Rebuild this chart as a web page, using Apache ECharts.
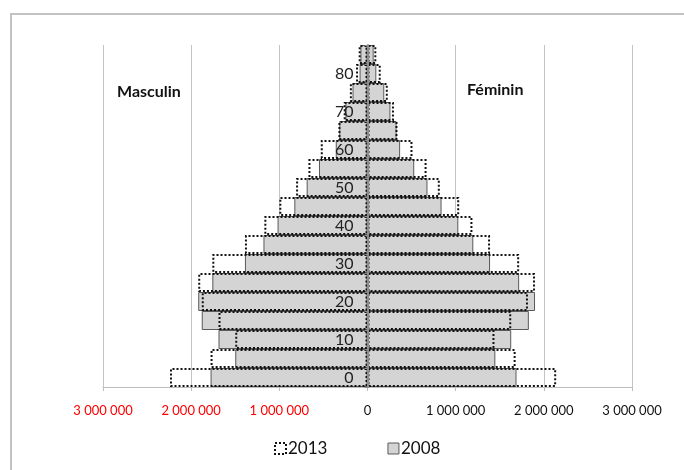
<!DOCTYPE html>
<html>
<head>
<meta charset="utf-8">
<script src="https://cdn.jsdelivr.net/npm/echarts@6/dist/echarts.min.js"></script>
<style>
  html, body { margin: 0; padding: 0; background: #fff; }
  #chart { width: 684px; height: 470px; }
</style>
</head>
<body>
<div id="chart"></div>
<script>
  // tranches d'âge (5 ans)
  const ages = ['0', '5', '10', '15', '20', '25', '30', '35', '40', '45', '50', '55', '60', '65', '70', '75', '80', '85'];

  // hommes (négatifs, côté gauche)
  const male2008 = [-1780000, -1500000, -1690000, -1880000, -1920000, -1760000, -1390000, -1180000, -1020000, -830000, -690000, -550000, -360000, -320000, -250000, -170000, -90000, -80000];
  const male2013 = [-2240000, -1780000, -1500000, -1690000, -1880000, -1920000, -1760000, -1390000, -1170000, -1000000, -810000, -670000, -530000, -330000, -270000, -200000, -130000, -100000];

  // femmes
  const female2008 = [1690000, 1450000, 1630000, 1830000, 1900000, 1720000, 1390000, 1200000, 1030000, 840000, 680000, 530000, 370000, 330000, 260000, 190000, 100000, 70000];
  const female2013 = [2140000, 1680000, 1440000, 1630000, 1820000, 1900000, 1720000, 1390000, 1190000, 1040000, 820000, 670000, 510000, 340000, 300000, 230000, 150000, 100000];

  const FONT = 'Lato, "Open Sans", sans-serif';

  const fmt = (v) => String(Math.abs(v)).replace(/\B(?=(\d{3})+(?!\d))/g, ' ');

  const style2008 = { color: '#d4d4d4', borderColor: '#5a5a5a', borderWidth: 1 };
  const style2013 = { color: 'rgba(0,0,0,0)', borderColor: '#111', borderWidth: 2, borderType: [2, 2] };

  const chart = echarts.init(document.getElementById('chart'));

  const option = {
    animation: false,
    textStyle: { fontFamily: FONT },
    grid: { left: 103, right: 52, top: 45, bottom: 83 },
    legend: {
      left: 269,
      top: 435,
      itemWidth: 11,
      itemHeight: 11,
      itemGap: 60,
      textStyle: { fontSize: 17, color: '#111', fontFamily: FONT, padding: [0, 0, 0, -3] },
      data: [
        { name: '2013', icon: 'rect', itemStyle: { color: 'rgba(0,0,0,0)', borderColor: '#111', borderWidth: 2, borderType: [2, 2] } },
        { name: '2008', icon: 'rect', itemStyle: { color: '#d4d4d4', borderColor: '#5a5a5a', borderWidth: 1 } },
      ],
    },
    xAxis: {
      type: 'value',
      min: -3000000,
      max: 3000000,
      interval: 1000000,
      axisLine: { show: true, lineStyle: { color: '#bdbdbd', width: 1 } },
      axisTick: { show: true, length: 4, lineStyle: { color: '#bdbdbd' } },
      splitLine: { show: true, lineStyle: { color: '#c4c4c4', width: 1 } },
      axisLabel: {
        margin: 17,
        fontSize: 13,
        fontFamily: FONT,
        formatter: fmt,
        color: (v) => (Number(v) < 0 ? '#ff0000' : '#111'),
      },
    },
    yAxis: {
      type: 'category',
      data: ages,
      offset: -264.5,
      axisLine: { show: true, onZero: false, lineStyle: { color: '#8c8c8c', width: 2 } },
      axisTick: { show: true, length: 3, interval: 0, lineStyle: { color: '#8c8c8c' } },
      axisLabel: { interval: 1, fontSize: 16, color: '#222', margin: 14, fontFamily: FONT },
      z: 5,
    },
    graphic: [
      {
        type: 'rect',
        shape: { x: 11, y: 14, width: 720, height: 500 },
        style: { fill: 'none', stroke: '#c2c2c2', lineWidth: 2 },
        silent: true,
      },
      {
        type: 'text',
        left: 117,
        top: 84,
        style: { text: 'Masculin', font: 'bold 16px ' + FONT, fill: '#111' },
      },
      {
        type: 'text',
        left: 467,
        top: 82,
        style: { text: 'Féminin', font: 'bold 16px ' + FONT, fill: '#111' },
      },
    ],
    series: [
      { name: '2008', type: 'bar', data: male2008, barGap: '-100%', barCategoryGap: '0%', itemStyle: style2008 },
      { name: '2008', type: 'bar', data: female2008, barGap: '-100%', barCategoryGap: '0%', itemStyle: style2008 },
      { name: '2013', type: 'bar', data: male2013, barGap: '-100%', barCategoryGap: '0%', itemStyle: style2013, z: 3 },
      { name: '2013', type: 'bar', data: female2013, barGap: '-100%', barCategoryGap: '0%', itemStyle: style2013, z: 3 },
    ],
  };

  chart.setOption(option);
</script>
</body>
</html>
